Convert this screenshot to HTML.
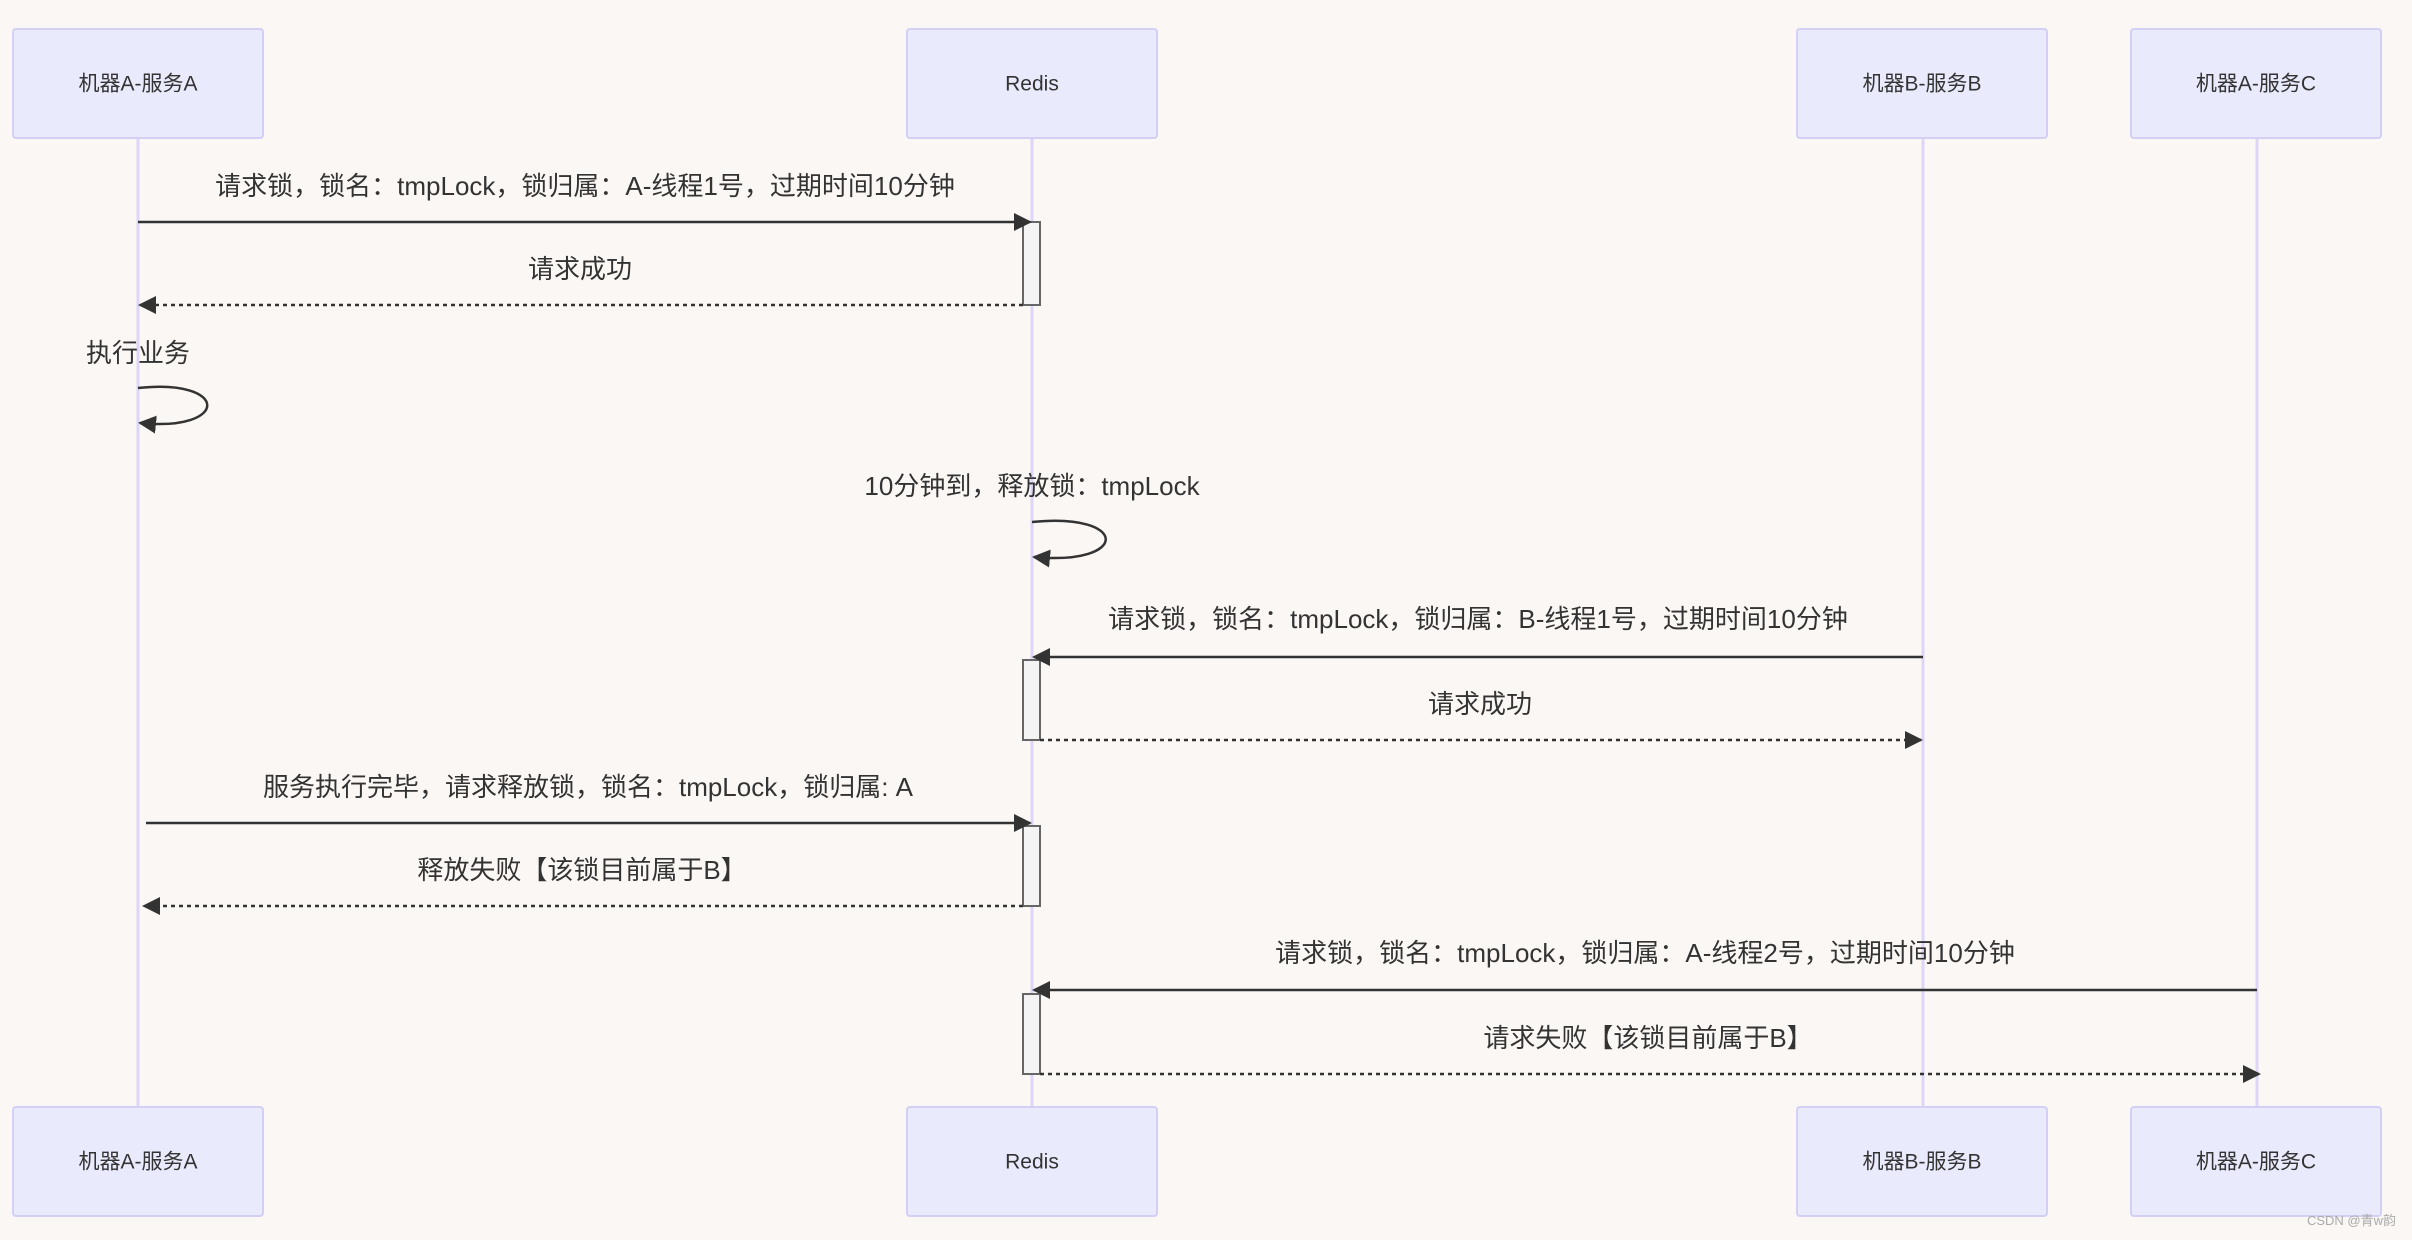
<!DOCTYPE html>
<html><head><meta charset="utf-8"><style>
html,body{margin:0;padding:0;background:#faf7f5;}
svg{display:block;}
text{font-family:"Liberation Sans","Noto Sans CJK SC",sans-serif;fill:#333;}
</style></head><body>
<svg width="2412" height="1240" viewBox="0 0 2412 1240" xmlns="http://www.w3.org/2000/svg">
<defs>
<marker id="ar" markerWidth="12" markerHeight="12" refX="11" refY="6" orient="auto" markerUnits="userSpaceOnUse" viewBox="0 0 12 12">
<path d="M0,0 L12,6 L0,12 z" fill="#333"/>
</marker>
<marker id="ar2" markerWidth="18" markerHeight="18" refX="16" refY="9" orient="auto" markerUnits="userSpaceOnUse" viewBox="0 0 18 18">
<path d="M0,0 L18,9 L0,18 z" fill="#333"/>
</marker>
</defs>
<rect width="2412" height="1240" fill="#faf7f5"/>
<!-- lifelines -->
<g stroke="#ddd6f8" stroke-width="3">
<line x1="138" y1="138" x2="138" y2="1107"/>
<line x1="1032" y1="138" x2="1032" y2="1107"/>
<line x1="1923" y1="138" x2="1923" y2="1107"/>
<line x1="2257" y1="138" x2="2257" y2="1107"/>
</g>
<!-- boxes -->
<g fill="#eaeafd" stroke="#d3cff5" stroke-width="2">
<rect x="13" y="29" width="250" height="109" rx="3"/>
<rect x="907" y="29" width="250" height="109" rx="3"/>
<rect x="1797" y="29" width="250" height="109" rx="3"/>
<rect x="2131" y="29" width="250" height="109" rx="3"/>
<rect x="13" y="1107" width="250" height="109" rx="3"/>
<rect x="907" y="1107" width="250" height="109" rx="3"/>
<rect x="1797" y="1107" width="250" height="109" rx="3"/>
<rect x="2131" y="1107" width="250" height="109" rx="3"/>
</g>
<g font-size="21" text-anchor="middle" dominant-baseline="middle">
<text x="138" y="85">机器A-服务A</text>
<text x="1032" y="85">Redis</text>
<text x="1922" y="85">机器B-服务B</text>
<text x="2256" y="85">机器A-服务C</text>
<text x="138" y="1163">机器A-服务A</text>
<text x="1032" y="1163">Redis</text>
<text x="1922" y="1163">机器B-服务B</text>
<text x="2256" y="1163">机器A-服务C</text>
</g>
<!-- activations -->
<g fill="#f4f4f4" stroke="#666" stroke-width="2">
<rect x="1023" y="222" width="17" height="83"/>
<rect x="1023" y="660" width="17" height="80"/>
<rect x="1023" y="826" width="17" height="80"/>
<rect x="1023" y="994" width="17" height="80"/>
</g>
<!-- messages -->
<g stroke="#333" stroke-width="2.5" fill="none">
<line x1="138" y1="222" x2="1030" y2="222" marker-end="url(#ar2)"/>
<line x1="1023" y1="305" x2="140" y2="305" stroke-dasharray="4,4" marker-end="url(#ar2)"/>
<path d="M138,388 C230,378 230,432 140,423" marker-end="url(#ar2)"/>
<path d="M1032,522 C1130,512 1130,566 1034,557" marker-end="url(#ar2)"/>
<line x1="1923" y1="657" x2="1034" y2="657" marker-end="url(#ar2)"/>
<line x1="1040" y1="740" x2="1921" y2="740" stroke-dasharray="4,4" marker-end="url(#ar2)"/>
<line x1="146" y1="823" x2="1030" y2="823" marker-end="url(#ar2)"/>
<line x1="1023" y1="906" x2="144" y2="906" stroke-dasharray="4,4" marker-end="url(#ar2)"/>
<line x1="2257" y1="990" x2="1034" y2="990" marker-end="url(#ar2)"/>
<line x1="1040" y1="1074" x2="2259" y2="1074" stroke-dasharray="4,4" marker-end="url(#ar2)"/>
</g>
<g font-size="26" text-anchor="middle" dominant-baseline="middle">
<text x="585" y="188">请求锁，锁名：tmpLock，锁归属：A-线程1号，过期时间10分钟</text>
<text x="580" y="271">请求成功</text>
<text x="138" y="355">执行业务</text>
<text x="1032" y="488">10分钟到，释放锁：tmpLock</text>
<text x="1478" y="621">请求锁，锁名：tmpLock，锁归属：B-线程1号，过期时间10分钟</text>
<text x="1480" y="706">请求成功</text>
<text x="588" y="789">服务执行完毕，请求释放锁，锁名：tmpLock，锁归属: A</text>
<text x="582" y="872">释放失败【该锁目前属于B】</text>
<text x="1645" y="955">请求锁，锁名：tmpLock，锁归属：A-线程2号，过期时间10分钟</text>
<text x="1648" y="1040">请求失败【该锁目前属于B】</text>
</g>
<text x="2396" y="1225" font-size="13" text-anchor="end" style="fill:#aaa">CSDN @青w韵</text>
</svg>
</body></html>
